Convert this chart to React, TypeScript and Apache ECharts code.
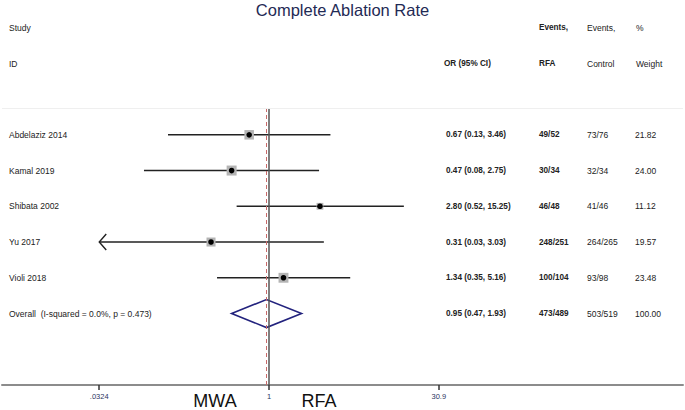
import React, { useEffect, useRef } from 'react';
import * as echarts from 'echarts';

const chartTitle = 'Complete Ablation Rate';
const studies = ['Abdelaziz 2014', 'Kamal 2019', 'Shibata 2002', 'Yu 2017', 'Violi 2018'];
const orValues = [0.67, 0.47, 2.8, 0.31, 1.34];
const ciLow = [0.13, 0.08, 0.52, 0.03, 0.35];
const ciHigh = [3.46, 2.75, 15.25, 3.03, 5.16];
const eventsRFA = ['49/52', '30/34', '46/48', '248/251', '100/104'];
const eventsControl = ['73/76', '32/34', '41/46', '264/265', '93/98'];
const weights = [21.82, 24.0, 11.12, 19.57, 23.48];

const overallLabel = 'Overall  (I-squared = 0.0%, p = 0.473)';
const overallOR = 0.95;
const overallLow = 0.47;
const overallHigh = 1.93;
const overallRFA = '473/489';
const overallControl = '503/519';
const overallWeight = 100.0;

const tickValues = [0.0324, 1, 30.9];
const tickLabels = ['.0324', '1', '30.9'];

const FONT = '"Liberation Sans", Arial, sans-serif';

const fmtCI = (o: number, l: number, h: number) =>
  `${o.toFixed(2)} (${l.toFixed(2)}, ${h.toFixed(2)})`;

export default function App() {
  const ref = useRef<HTMLDivElement>(null);
  useEffect(() => {
    document.body.style.margin = '0';
    if (!ref.current) return;
    const chart = echarts.init(ref.current, null, { renderer: 'svg' });
    const clipMin = Math.log(tickValues[0]);
    const clipMax = Math.log(tickValues[tickValues.length - 1]);
    const tickLn = tickValues.map((v) => Math.log(v));

    const rowData = studies.map((s, i) => [
      Math.log(orValues[i]),
      i,
      Math.log(ciLow[i]),
      Math.log(ciHigh[i]),
      weights[i],
    ]);

    const tableRows = studies.map((s, i) => [
      0,
      i,
      s,
      fmtCI(orValues[i], ciLow[i], ciHigh[i]),
      eventsRFA[i],
      eventsControl[i],
      weights[i].toFixed(2),
    ]);
    tableRows.push([
      0,
      studies.length,
      overallLabel,
      fmtCI(overallOR, overallLow, overallHigh),
      overallRFA,
      overallControl,
      overallWeight.toFixed(2),
    ]);

    const colX = [9, 446, 539, 587, 635];
    const colBold = [false, true, true, false, false];
    const colSize = [8.5, 8.2, 8.2, 8.5, 8.5];

    const option: any = {
      animation: false,
      title: {
        text: chartTitle,
        left: 'center',
        top: 1,
        padding: 0,
        textStyle: { fontFamily: FONT, fontSize: 16.5, fontWeight: 'normal', color: '#1f2a55' },
      },
      grid: { left: 2, right: 2, top: 108, bottom: 25, containLabel: false },
      xAxis: {
        type: 'value',
        min: -5.394,
        max: 8.364,
        splitLine: { show: false },
        axisLine: { show: true, onZero: false, lineStyle: { color: '#8c8c8c', width: 2 } },
        axisTick: {
          show: true,
          customValues: tickLn,
          length: 5,
          lineStyle: { color: '#333', width: 1.5 },
        },
        axisLabel: {
          show: true,
          customValues: tickLn,
          margin: 7,
          fontFamily: FONT,
          fontSize: 7.5,
          color: '#2a3560',
          formatter: (v: number) => {
            let best = 0;
            tickLn.forEach((t, k) => {
              if (Math.abs(t - v) < Math.abs(tickLn[best] - v)) best = k;
            });
            return tickLabels[best];
          },
        },
      },
      yAxis: { type: 'value', min: -0.75, max: 7.0, inverse: true, show: false },
      graphic: [
        { type: 'text', left: 9, top: 23, style: { text: 'Study', font: `8.5px ${FONT}`, fill: '#222' } },
        { type: 'text', left: 9, top: 59, style: { text: 'ID', font: `8.5px ${FONT}`, fill: '#222' } },
        { type: 'text', left: 444, top: 59, style: { text: 'OR (95% CI)', font: `bold 8.2px ${FONT}`, fill: '#222' } },
        { type: 'text', left: 539, top: 23, style: { text: 'Events,', font: `bold 8.2px ${FONT}`, fill: '#222' } },
        { type: 'text', left: 539, top: 59, style: { text: 'RFA', font: `bold 8.2px ${FONT}`, fill: '#222' } },
        { type: 'text', left: 587, top: 23, style: { text: 'Events,', font: `8.5px ${FONT}`, fill: '#222' } },
        { type: 'text', left: 587, top: 59, style: { text: 'Control', font: `8.5px ${FONT}`, fill: '#222' } },
        { type: 'text', left: 636, top: 23, style: { text: '%', font: `8.5px ${FONT}`, fill: '#222' } },
        { type: 'text', left: 636, top: 59, style: { text: 'Weight', font: `8.5px ${FONT}`, fill: '#222' } },
        {
          type: 'text',
          x: 215,
          y: 401,
          style: { text: 'MWA', font: `18px ${FONT}`, fill: '#111', align: 'center', verticalAlign: 'middle' },
        },
        {
          type: 'text',
          x: 319,
          y: 401,
          style: { text: 'RFA', font: `18px ${FONT}`, fill: '#111', align: 'center', verticalAlign: 'middle' },
        },
      ],
      series: [
        {
          type: 'custom',
          name: 'studies',
          data: rowData,
          encode: { x: 0, y: 1 },
          clip: false,
          renderItem: (params: any, api: any) => {
            const est = api.value(0);
            const row = api.value(1);
            const lo = api.value(2);
            const hi = api.value(3);
            const w = api.value(4);
            const p = api.coord([est, row]);
            const xl = api.coord([Math.max(lo, clipMin), row])[0];
            const xh = api.coord([Math.min(hi, clipMax), row])[0];
            const y = p[1];
            const side = 2.04 * Math.sqrt(w);
            const children: any[] = [
              {
                type: 'line',
                shape: { x1: xl, y1: y, x2: xh, y2: y },
                style: { stroke: '#222', lineWidth: 1.5 },
              },
              {
                type: 'rect',
                shape: { x: p[0] - side / 2, y: y - side / 2, width: side, height: side },
                style: { fill: '#b4b4b4' },
              },
              {
                type: 'circle',
                shape: { cx: p[0], cy: y, r: 2.8 },
                style: { fill: '#000' },
              },
            ];
            if (lo < clipMin) {
              children.push({
                type: 'polyline',
                shape: { points: [[xl + 7, y - 8], [xl, y], [xl + 7, y + 8]] },
                style: { stroke: '#222', lineWidth: 1.4, fill: 'none' },
              });
            }
            if (hi > clipMax) {
              children.push({
                type: 'polyline',
                shape: { points: [[xh - 7, y - 8], [xh, y], [xh - 7, y + 8]] },
                style: { stroke: '#222', lineWidth: 1.4, fill: 'none' },
              });
            }
            return { type: 'group', children };
          },
          markLine: {
            silent: true,
            symbol: 'none',
            label: { show: false },
            data: [
              { xAxis: 0, lineStyle: { color: '#555', width: 1.5, type: 'solid' } },
              { xAxis: Math.log(overallOR), lineStyle: { color: '#c86a6a', width: 1, type: [4, 3] } },
              { yAxis: -0.75, lineStyle: { color: '#efefef', width: 1, type: 'solid' } },
            ],
          },
        },
        {
          type: 'custom',
          name: 'overall',
          data: [[Math.log(overallOR), studies.length, Math.log(overallLow), Math.log(overallHigh)]],
          encode: { x: 0, y: 1 },
          clip: false,
          renderItem: (params: any, api: any) => {
            const c = api.coord([api.value(0), api.value(1)]);
            const l = api.coord([api.value(2), api.value(1)]);
            const h = api.coord([api.value(3), api.value(1)]);
            const hh = 14;
            return {
              type: 'polygon',
              shape: { points: [[l[0], c[1]], [c[0], c[1] - hh], [h[0], c[1]], [c[0], c[1] + hh]] },
              style: { fill: 'none', stroke: '#23237e', lineWidth: 1.6 },
            };
          },
        },
        {
          type: 'custom',
          name: 'table',
          data: tableRows,
          encode: { x: 0, y: 1 },
          clip: false,
          renderItem: (params: any, api: any) => {
            const y = api.coord([0, api.value(1)])[1];
            const row = tableRows[params.dataIndex];
            const children = colX.map((x, k) => ({
              type: 'text',
              style: {
                x,
                y,
                text: String(row[k + 2]),
                font: `${colBold[k] ? 'bold ' : ''}${colSize[k]}px ${FONT}`,
                fill: '#222',
                verticalAlign: 'middle',
                align: 'left',
              },
            }));
            return { type: 'group', children };
          },
        },
      ],
    };
    chart.setOption(option);
    return () => chart.dispose();
  }, []);
  return (
    <div
      ref={ref}
      style={{ position: 'absolute', left: 0, top: 0, width: 685, height: 410, background: '#fff' }}
    />
  );
}
